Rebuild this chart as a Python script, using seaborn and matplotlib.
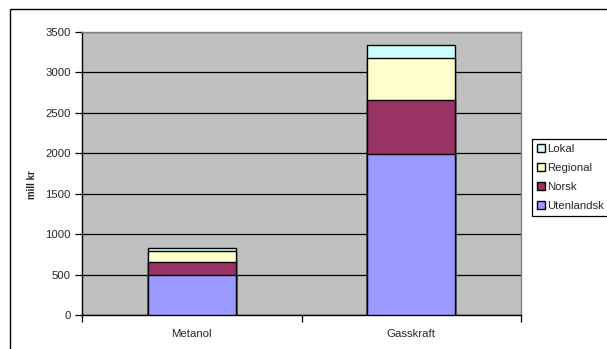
import matplotlib
matplotlib.use("Agg")
import matplotlib.pyplot as plt
from matplotlib.patches import Patch, Rectangle
from matplotlib.ticker import FixedLocator
import numpy as np
import pandas as pd
import seaborn as sns

# Cost breakdown (mill kr) per project, stacked from bottom to top
categories = ["Metanol", "Gasskraft"]
utenlandsk = [500, 1990]
norsk = [160, 670]
regional = [130, 510]
lokal = [35, 160]

series_names = ["Utenlandsk", "Norsk", "Regional", "Lokal"]
series_values = [utenlandsk, norsk, regional, lokal]
series_colors = ["#9999FF", "#993366", "#FFFFCC", "#CCFFFF"]
yticks = [0, 500, 1000, 1500, 2000, 2500, 3000, 3500]

sns.set_theme(style="white")
plt.rcParams["font.family"] = ["Liberation Sans", "DejaVu Sans"]

fig = plt.figure(figsize=(6.07, 3.49), dpi=100)
ax = fig.add_axes([82 / 607, 1 - 315.3 / 349, 439 / 607, 283.8 / 349])
ax.set_facecolor("#C0C0C0")

# Cumulative tops, drawn from the highest layer down so each segment shows
cum = np.cumsum(np.array(series_values), axis=0)
for i in range(len(series_names) - 1, -1, -1):
    df = pd.DataFrame({"kategori": categories, "verdi": cum[i]})
    sns.barplot(data=df, x="kategori", y="verdi", color=series_colors[i],
                saturation=1, width=0.4, edgecolor="black", linewidth=1,
                ax=ax, zorder=3)

ax.set_xlim(-0.5, 1.5)
ax.set_ylim(0, 3500)
ax.set_yticks(yticks)
ax.yaxis.grid(True, color="black", linewidth=0.9, zorder=0)
ax.set_axisbelow(True)

ax.set_xlabel("")
ax.set_ylabel("mill kr", fontsize=7, fontweight="bold")
ax.yaxis.set_label_coords(-0.1025, 0.46)

ax.tick_params(axis="y", which="major", left=True, length=5, width=0.9,
               direction="out", pad=3, labelsize=8.2, color="black")
ax.tick_params(axis="x", which="major", bottom=False, length=0, pad=10,
               labelsize=8.2)
ax.xaxis.set_minor_locator(FixedLocator([-0.5, 0.5, 1.5]))
ax.tick_params(axis="x", which="minor", bottom=True, length=5, width=0.9,
               direction="out", color="black")

for side in ["top", "right"]:
    ax.spines[side].set_color("#808080")
    ax.spines[side].set_linewidth(1)
for side in ["left", "bottom"]:
    ax.spines[side].set_color("black")
    ax.spines[side].set_linewidth(1)

# Chart frame around the whole figure area
fig.patches.append(Rectangle((10 / 607, -0.05), 1.2, 1 - 9 / 349 + 0.05,
                             transform=fig.transFigure, fill=False,
                             edgecolor="black", linewidth=1, clip_on=False))

handles = [Patch(facecolor=c, edgecolor="black", linewidth=1, label=n)
           for n, c in zip(series_names, series_colors)][::-1]
leg = fig.legend(handles=handles, loc="upper left",
                 bbox_to_anchor=(531.7 / 607, 1 - 139.3 / 349),
                 fontsize=8.2, frameon=True, fancybox=False, framealpha=1,
                 edgecolor="black", handlelength=0.7, handleheight=0.7,
                 handletextpad=0.2, labelspacing=0.78, borderpad=0.45,
                 borderaxespad=0)
leg.get_frame().set_linewidth(0.9)

fig.savefig("out.png", dpi=100)
